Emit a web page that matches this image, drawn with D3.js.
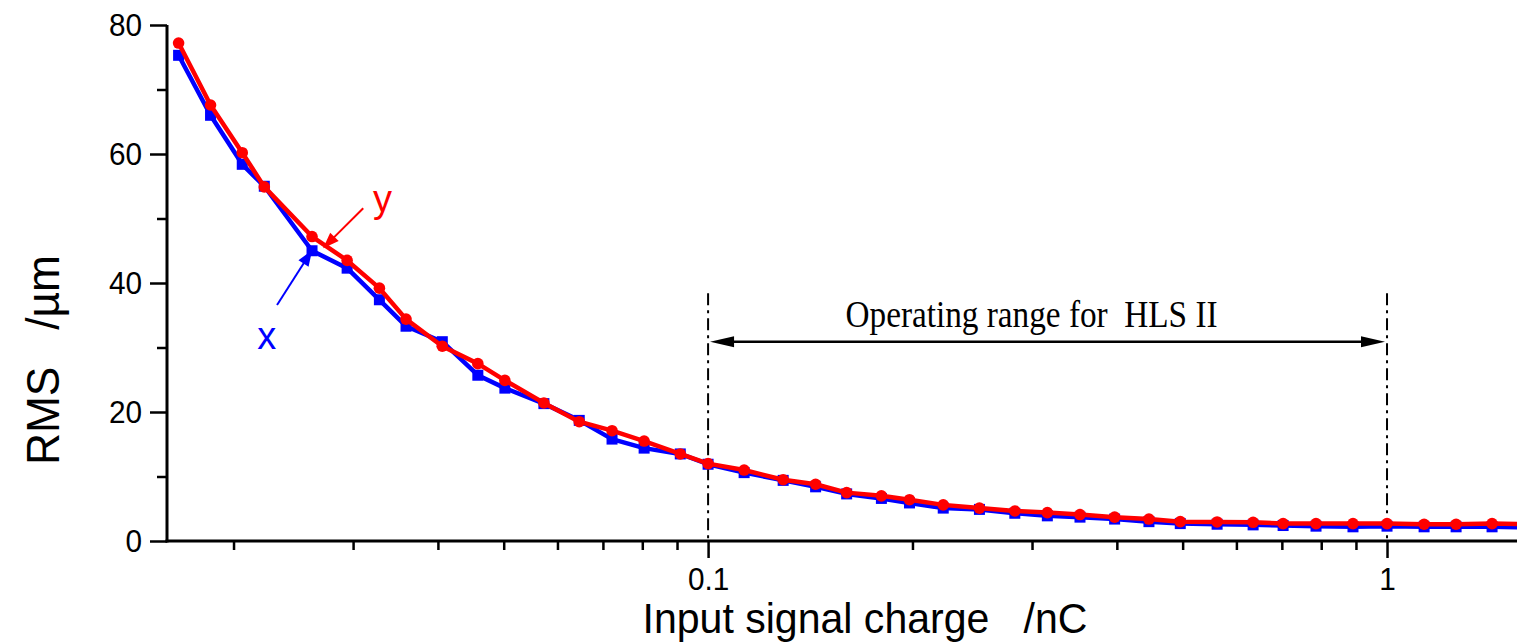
<!DOCTYPE html>
<html>
<head>
<meta charset="utf-8">
<script src="https://cdn.jsdelivr.net/npm/d3@7"></script>
<style>
  html, body { margin: 0; padding: 0; background: #fff; }
  svg { display: block; }
  text { white-space: pre; }
</style>
</head>
<body>
<svg id="chart" width="1517" height="642"></svg>
<script>
// ---- Data ----
const charge = [0.0166, 0.0185, 0.0206, 0.0222, 0.0261, 0.0294, 0.0328, 0.0359, 0.0406, 0.0458,
                0.0502, 0.0573, 0.0646, 0.0722, 0.0805, 0.0910, 0.100, 0.113, 0.129, 0.144,
                0.160, 0.180, 0.198, 0.222, 0.251, 0.283, 0.316, 0.353, 0.397, 0.446,
                0.496, 0.562, 0.635, 0.703, 0.786, 0.891, 1.000, 1.134, 1.264, 1.428, 1.590];
const rmsY = [77.2, 67.6, 60.2, 54.9, 47.2, 43.5, 39.2, 34.4, 30.2, 27.5,
              24.9, 21.4, 18.5, 17.1, 15.5, 13.5, 12.0, 11.0, 9.5, 8.8,
              7.5, 7.0, 6.4, 5.6, 5.1, 4.65, 4.4, 4.1, 3.7, 3.4,
              3.0, 2.95, 2.9, 2.7, 2.7, 2.7, 2.7, 2.6, 2.6, 2.7, 2.6];
const rmsX = [75.3, 66.0, 58.4, 55.0, 45.0, 42.3, 37.4, 33.3, 30.9, 25.7,
              23.7, 21.3, 18.7, 15.8, 14.4, 13.5, 11.9, 10.6, 9.4, 8.4,
              7.3, 6.6, 5.9, 5.1, 4.9, 4.3, 3.9, 3.7, 3.4, 3.0,
              2.7, 2.6, 2.5, 2.4, 2.3, 2.2, 2.3, 2.2, 2.2, 2.2, 2.1];

const xMajorTicks = [0.1, 1];
const xMinorTicks = [0.02, 0.03, 0.04, 0.05, 0.06, 0.07, 0.08, 0.09, 0.2, 0.3, 0.4, 0.5, 0.6, 0.7, 0.8, 0.9];
const yMajorTicks = [0, 20, 40, 60, 80];
const yMinorTicks = [10, 30, 50, 70];

const xTitle = "Input signal charge   /nC";
const yTitle = "RMS   /\u00b5m";

// Operating range annotation (data coordinates)
const rangeBounds = [0.1, 1];
const rangeArrowY = 30.9;
const rangeLineTop = 38.4;
const rangeTextY = 33.2;
const rangeText = "Operating range for  HLS II";

// Series labels with arrows (data coordinates)
const seriesLabels = ["y", "x"];
const labelPos = [[0.0321, 51.0], [0.02167, 29.8]];
const arrowFrom = [[0.03105, 51.6], [0.02318, 36.6]];
const arrowTo = [[0.0271, 45.4], [0.02611, 45.1]];
const labelColors = ["#ff0000", "#0000ff"];

// ---- Chart ----
const svg = d3.select("#chart");
const W = 1517, H = 642;
svg.append("rect").attr("width", W).attr("height", H).attr("fill", "#fff");

const x = d3.scaleLog().domain([0.01596, 1.554]).range([167, 1517]);
const y = d3.scaleLinear().domain([0, 80]).range([541, 25]);

const sansFont = "'Liberation Sans', Arial, sans-serif";
const serifFont = "'Liberation Serif', 'Times New Roman', serif";

svg.append("defs").append("clipPath").attr("id", "plotclip")
  .append("rect").attr("x", 160).attr("y", 0).attr("width", 1517 - 160).attr("height", 560);

// Operating range dash-dot lines
const annoG = svg.append("g");
rangeBounds.forEach(v => {
  annoG.append("line")
    .attr("x1", x(v)).attr("x2", x(v))
    .attr("y1", y(rangeLineTop)).attr("y2", y(0))
    .attr("stroke", "#000").attr("stroke-width", 2)
    .attr("stroke-dasharray", "12,5,3,5");
});

function arrowHead(g, xTip, yTip, xFrom, yFrom, len, half, color) {
  const dx = xTip - xFrom, dy = yTip - yFrom;
  const L = Math.hypot(dx, dy);
  const ux = dx / L, uy = dy / L;
  const bx = xTip - ux * len, by = yTip - uy * len;
  const px = -uy, py = ux;
  g.append("path")
    .attr("d", `M${xTip},${yTip}L${bx + px * half},${by + py * half}L${bx - px * half},${by - py * half}Z`)
    .attr("fill", color);
}

// Double arrow
const xa = x(rangeBounds[0]) + 2, xb = x(rangeBounds[1]) - 2, ya = y(rangeArrowY);
annoG.append("line").attr("x1", xa + 10).attr("x2", xb - 10).attr("y1", ya).attr("y2", ya)
  .attr("stroke", "#000").attr("stroke-width", 2.5);
arrowHead(annoG, xa, ya, xb, ya, 24, 5.5, "#000");
arrowHead(annoG, xb, ya, xa, ya, 24, 5.5, "#000");
annoG.append("text")
  .attr("x", (x(rangeBounds[0]) + x(rangeBounds[1])) / 2 - 16)
  .attr("y", y(rangeTextY))
  .attr("text-anchor", "middle")
  .attr("font-family", serifFont).attr("font-size", 38)
  .attr("textLength", 372).attr("lengthAdjust", "spacingAndGlyphs")
  .attr("fill", "#000")
  .text(rangeText);

// Series
const plotG = svg.append("g").attr("clip-path", "url(#plotclip)");
const line = d3.line().x(d => x(d[0])).y(d => y(d[1]));
const blueData = charge.map((c, i) => [c, rmsX[i]]);
const redData = charge.map((c, i) => [c, rmsY[i]]);

plotG.append("path").datum(blueData).attr("d", line)
  .attr("fill", "none").attr("stroke", "#0000ff").attr("stroke-width", 4.5).attr("stroke-linejoin", "round");
plotG.selectAll("rect.bm").data(blueData).enter().append("rect")
  .attr("x", d => x(d[0]) - 5.5).attr("y", d => y(d[1]) - 5.5)
  .attr("width", 11).attr("height", 11).attr("fill", "#0000ff");

plotG.append("path").datum(redData).attr("d", line)
  .attr("fill", "none").attr("stroke", "#ff0000").attr("stroke-width", 4.5).attr("stroke-linejoin", "round");
plotG.selectAll("circle.rm").data(redData).enter().append("circle")
  .attr("cx", d => x(d[0])).attr("cy", d => y(d[1])).attr("r", 5.8).attr("fill", "#ff0000");

// Series labels + arrows
seriesLabels.forEach((s, i) => {
  const x1 = x(arrowFrom[i][0]), y1 = y(arrowFrom[i][1]);
  const x2 = x(arrowTo[i][0]), y2 = y(arrowTo[i][1]);
  const L = Math.hypot(x2 - x1, y2 - y1);
  const ex = x2 - (x2 - x1) / L * 10, ey = y2 - (y2 - y1) / L * 10;
  svg.append("line").attr("x1", x1).attr("y1", y1).attr("x2", ex).attr("y2", ey)
    .attr("stroke", labelColors[i]).attr("stroke-width", 2);
  arrowHead(svg, x2, y2, x1, y1, 16, 6, labelColors[i]);
  svg.append("text").attr("x", x(labelPos[i][0])).attr("y", y(labelPos[i][1]))
    .attr("font-family", sansFont).attr("font-size", 38).attr("fill", labelColors[i])
    .text(s);
});

// Axes
function styleAxis(g) {
  g.selectAll("path.domain").attr("stroke", "#000").attr("stroke-width", 3);
  g.selectAll(".tick line").attr("stroke", "#000").attr("stroke-width", 2.5);
  g.selectAll("text").attr("font-family", sansFont).attr("font-size", 32).attr("fill", "#000")
    .each(function () {
      const w = this.getComputedTextLength();
      d3.select(this).attr("textLength", w * 0.93).attr("lengthAdjust", "spacingAndGlyphs");
    });
}

const xMinorG = svg.append("g").attr("transform", "translate(0,541)")
  .call(d3.axisBottom(x).tickValues(xMinorTicks).tickSize(9).tickSizeOuter(0).tickFormat(""));
styleAxis(xMinorG);
xMinorG.select("path.domain").attr("d", `M${x.range()[0] - 1.5},0H${x.range()[1]}`);
const xMajorG = svg.append("g").attr("transform", "translate(0,541)")
  .call(d3.axisBottom(x).tickValues(xMajorTicks).tickSize(17).tickPadding(9).tickSizeOuter(0)
    .tickFormat(d => d3.format("")(d)));
xMajorG.select("path.domain").remove();
styleAxis(xMajorG);

const yMinorG = svg.append("g").attr("transform", "translate(167,0)")
  .call(d3.axisLeft(y).tickValues(yMinorTicks).tickSize(10).tickSizeOuter(0).tickFormat(""));
styleAxis(yMinorG);
yMinorG.select("path.domain").attr("d", `M0,${y.range()[1]}V${y.range()[0] + 1.5}`);
const yMajorG = svg.append("g").attr("transform", "translate(167,0)")
  .call(d3.axisLeft(y).tickValues(yMajorTicks).tickSize(17).tickPadding(8).tickSizeOuter(0));
yMajorG.select("path.domain").remove();
styleAxis(yMajorG);

// Axis titles
svg.append("text")
  .attr("x", 865).attr("y", 633)
  .attr("text-anchor", "middle")
  .attr("font-family", sansFont).attr("font-size", 42)
  .attr("textLength", 445).attr("lengthAdjust", "spacingAndGlyphs")
  .attr("fill", "#000").text(xTitle);

svg.append("text")
  .attr("transform", "translate(59,360) rotate(-90)")
  .attr("text-anchor", "middle")
  .attr("font-family", sansFont).attr("font-size", 46)
  .attr("textLength", 210).attr("lengthAdjust", "spacingAndGlyphs")
  .attr("fill", "#000").text(yTitle);
</script>
</body>
</html>
